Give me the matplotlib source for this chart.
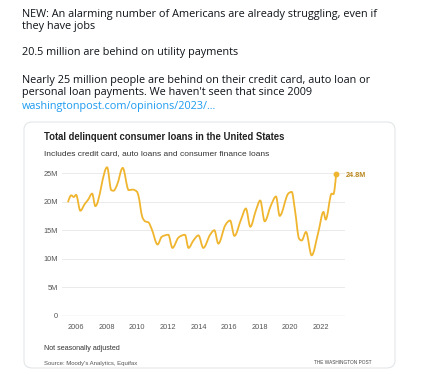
import matplotlib
matplotlib.use("Agg")
import matplotlib.pyplot as plt
from matplotlib.patches import FancyBboxPatch, PathPatch
from matplotlib.path import Path

# ---- data ----
years = [2005.48, 2005.69, 2005.85, 2006.0, 2006.28, 2006.57, 2006.78, 2007.05,
         2007.26, 2008.03, 2008.3, 2008.45, 2008.67, 2009.05, 2009.44, 2009.7,
         2009.99, 2010.07, 2010.33, 2010.55, 2010.72, 2010.93, 2011.33, 2011.6,
         2012.03, 2012.3, 2012.69, 2013.12, 2013.35, 2013.67, 2014.0, 2014.32,
         2014.76, 2015.04, 2015.3, 2015.75, 2016.07, 2016.35, 2016.8, 2017.1,
         2017.39, 2017.76, 2018.04, 2018.33, 2018.74, 2019.07, 2019.31, 2019.87,
         2020.1, 2020.31, 2020.58, 2020.75, 2021.03, 2021.4, 2021.84, 2022.17,
         2022.32, 2022.71, 2022.82, 2023.0]
values = [20.0, 21.1, 20.8, 21.2, 18.4, 19.6, 20.3, 21.4,
          19.2, 26.0, 22.0, 21.9, 22.85, 25.9, 22.0, 22.1,
          21.7, 21.1, 17.3, 16.5, 16.4, 15.3, 12.5, 13.85,
          14.2, 11.9, 13.7, 14.2, 11.9, 13.2, 14.1, 11.9,
          14.2, 15.0, 12.65, 15.85, 16.7, 14.0, 17.0, 18.8,
          15.6, 18.5, 20.2, 16.55, 19.35, 20.9, 17.5, 21.4,
          21.7, 18.5, 13.5, 13.2, 14.7, 10.6, 14.7, 18.2,
          16.85, 21.4, 21.3, 24.8]
ytick_vals = [0, 5, 10, 15, 20, 25]
ytick_labels = ["0", "5M", "10M", "15M", "20M", "25M"]
xtick_vals = [2006, 2008, 2010, 2012, 2014, 2016, 2018, 2020, 2022]
end_label = "24.8M"

tweet_lines = [
    ("NEW: An alarming number of Americans are already struggling, even if", 14),
    ("they have jobs", 27),
    ("20.5 million are behind on utility payments", 53),
    ("Nearly 25 million people are behind on their credit card, auto loan or", 80),
    ("personal loan payments. We haven't seen that since 2009", 93),
]
link = "washingtonpost.com/opinions/2023/..."

W, H = 430, 374
fig = plt.figure(figsize=(W / 100, H / 100), dpi=100)
fig.patch.set_facecolor("white")

def fx(px):
    return px / W

def fy(py):
    return 1 - py / H

tfont = "Open Sans"
for txt, y in tweet_lines:
    fig.text(fx(22), fy(y), txt, fontsize=7.85, color="#0f1419", family=tfont,
             va="center", ha="left")
fig.text(fx(22), fy(106), link, fontsize=7.85, color="#1d9bf0", family=tfont,
         va="center", ha="left")

# card
card = FancyBboxPatch((fx(24), fy(368)), fx(395) - fx(24), fy(122) - fy(368),
                      boxstyle="round,pad=0,rounding_size=0.02",
                      transform=fig.transFigure, facecolor="white",
                      edgecolor="#e3e6e8", linewidth=0.8, zorder=-5)
fig.patches.append(card)

cfont = "Liberation Sans"
fig.text(fx(44), fy(137), "Total delinquent consumer loans in the United States",
         fontsize=6.85, fontweight="bold", color="#222222", family=cfont,
         va="center", ha="left")
fig.text(fx(44), fy(154), "Includes credit card, auto loans and consumer finance loans",
         fontsize=6.0, color="#333333", family=cfont, va="center", ha="left")
fig.text(fx(44), fy(349), "Not seasonally adjusted", fontsize=5.1, color="#333333",
         family=cfont, va="center", ha="left")
fig.text(fx(44), fy(363), "Source: Moody's Analytics, Equifax", fontsize=4.3,
         color="#555555", family=cfont, va="center", ha="left")
fig.text(fx(372), fy(363), "THE WASHINGTON POST", fontsize=3.4, color="#444444",
         family=cfont, va="center", ha="right")

ax = fig.add_axes([fx(62), fy(316), fx(345) - fx(62), fy(316 - 27 * 5.72) - fy(316)],
                  zorder=5)
ax.set_xlim(2005.08, 2023.58)
ax.set_ylim(0, 27)
for s in ax.spines.values():
    s.set_visible(False)
ax.set_facecolor("none")
for v in ytick_vals[1:]:
    ax.axhline(v, color="#e6e6e6", linewidth=0.6, zorder=0)
ax.axhline(0, color="#8a8a8a", linewidth=0.8, zorder=1)

# monotone-x curve through the data points (like d3.curveMonotoneX)
n = len(years)
h = [years[i + 1] - years[i] for i in range(n - 1)]
s = [(values[i + 1] - values[i]) / h[i] for i in range(n - 1)]
t = [0.0] * n
for i in range(1, n - 1):
    s0, s1 = s[i - 1], s[i]
    p = (s0 * h[i] + s1 * h[i - 1]) / (h[i - 1] + h[i])
    sign = (1 if s0 > 0 else -1 if s0 < 0 else 0) + (1 if s1 > 0 else -1 if s1 < 0 else 0)
    t[i] = sign * min(abs(s0), abs(s1), 0.5 * abs(p))
t[0] = (3 * s[0] - t[1]) / 2
t[-1] = (3 * s[-1] - t[-2]) / 2
verts = [(years[0], values[0])]
codes = [Path.MOVETO]
for i in range(n - 1):
    dx = h[i] / 3
    verts += [(years[i] + dx, values[i] + dx * t[i]),
              (years[i + 1] - dx, values[i + 1] - dx * t[i + 1]),
              (years[i + 1], values[i + 1])]
    codes += [Path.CURVE4] * 3
ax.add_patch(PathPatch(Path(verts, codes), facecolor="none", edgecolor="#f0b52e",
                       linewidth=1.3, joinstyle="round", capstyle="round", zorder=3))

ax.plot([years[-1]], [values[-1]], "o", color="#f0b52e", markersize=3.2, zorder=4)
ax.annotate(end_label, (years[-1], values[-1]), xytext=(7, -1), textcoords="offset points",
            fontsize=5.2, fontweight="bold", color="#b8861b", family=cfont,
            va="center", ha="left", annotation_clip=False)

ax.set_yticks(ytick_vals)
ax.set_yticklabels(ytick_labels)
ax.set_xticks(xtick_vals)
ax.set_xticklabels([str(x) for x in xtick_vals])
ax.tick_params(axis="both", length=0, labelsize=5.3, labelcolor="#555555")
ax.tick_params(axis="y", pad=3)
ax.tick_params(axis="x", pad=5.5)
for lab in ax.get_xticklabels() + ax.get_yticklabels():
    lab.set_family(cfont)

fig.savefig("out.png", dpi=100, facecolor="white")
